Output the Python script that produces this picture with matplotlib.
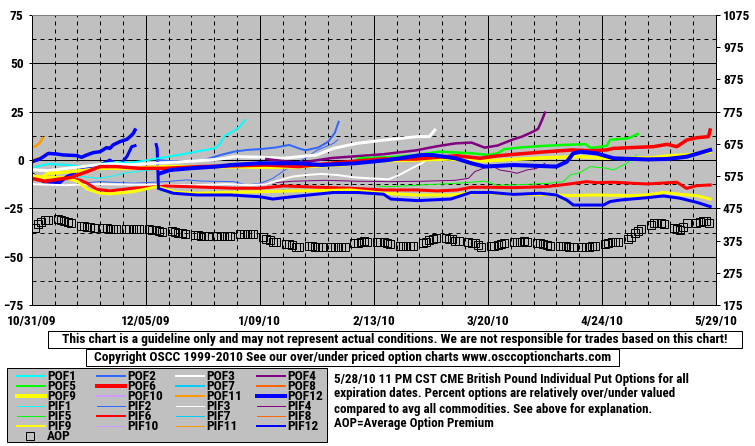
import os
import numpy as np
import matplotlib
matplotlib.use('Agg')
import matplotlib.pyplot as plt
import matplotlib.dates as mdates
from matplotlib import font_manager
from matplotlib.font_manager import FontProperties
from matplotlib.lines import Line2D
from matplotlib.patches import Rectangle
from matplotlib.ticker import FuncFormatter

W, H = 755, 446


def pick_font():
    """Find a static narrow bold face (the chart uses a condensed bold sans)."""
    wanted = ['Liberation Sans Narrow', 'Arial Narrow', 'Archivo Narrow', 'Roboto Condensed',
              'Asap Condensed', 'PT Sans Narrow']
    entries = [f for f in font_manager.fontManager.ttflist
               if '[' not in os.path.basename(f.fname) and f.style == 'normal']
    for fam in wanted:
        for f in entries:
            if f.name == fam and f.weight in (700, 'bold'):
                return f.fname
    return None


FONT_FILE = pick_font()


def fp(size):
    if FONT_FILE:
        return FontProperties(fname=FONT_FILE, size=size)
    return FontProperties(family='Liberation Sans', weight='bold', size=size)


DISCLAIMER = ('This chart is a guideline only and may not represent actual conditions. '
              'We are not responsible for trades based on this chart!')
COPYRIGHT = 'Copyright OSCC 1999-2010 See our over/under priced option charts www.osccoptioncharts.com'
desc = ['5/28/10 11 PM CST CME British Pound Individual Put Options for all',
        'expiration dates. Percent options are relatively over/under valued',
        'compared to avg all commodities. See above for explanation.',
        'AOP=Average Option Premium']

# ---- data (days after 10/31/09, percent over/under valued) ----
START = '2009-10-31'
END = '2010-05-29'

pof1_days = [0, 5, 11, 16, 21, 26, 30, 34, 39, 45, 52, 56, 57.5, 59.3, 62, 64, 65.5]
pof1_vals = [-4, -2, -2.6, -3.4, -2, -1.2, -1.5, -0.5, 0.9, 2.6, 4.8, 6, 7.8, 12.5, 15, 17.5, 20.7]
pif1_days = [10, 16, 20, 24, 28, 32, 36, 40, 46, 52, 58]
pif1_vals = [-9.5, -8.6, -9.5, -8.6, -6.9, -6.0, -5.2, -4.5, -4.3, -3.4, -2.6]

pof2_days = [38.5, 42, 46, 53, 58, 62, 66, 70, 75, 79, 82, 84, 88, 91, 93, 94.2]
pof2_vals = [0, -0.5, -0.9, 0, 2.6, 4.3, 5.2, 5.6, 6.5, 7.8, 6, 5, 6.5, 9.5, 14, 19.8]
pif2_days = [15, 21, 31, 41, 47.5, 52, 62, 66, 70, 72, 74, 77, 80, 84, 87.5, 92.6, 94]
pif2_vals = [-12, -11.2, -12, -11.2, -10.3, -10.9, -11.2, -12.9, -12, -10.9, -9.5, -6, -2.6, 0.9, 5, 8.6, 10.5]

pof3_days = [0, 5, 10, 15, 20, 25, 30, 35, 40, 50, 58, 62, 70, 77, 87.5, 92.6, 99.8, 108, 118.4, 122, 123.7]
pof3_vals = [-5, -5.5, -4.5, -3.5, -2.5, -2, -2.5, -2, -1.5, -0.5, 0.5, 1.7, 1.5, 0.9, 2.6, 6, 8.6, 10.3, 12.1, 12.1, 15.5]
pif3_days = [0, 10, 20, 30, 40, 50, 60, 67, 72, 75, 80, 84, 89, 94, 99, 104, 109.5, 112.5, 115.6, 119.7, 121.7, 123.3]
pif3_vals = [-12.5, -13, -12.5, -12.7, -12.9, -13, -12.5, -13, -12.5, -11, -8.6, -7.8, -7.2, -7.8, -9, -9.5, -10, -8, -5.2, -1.7, 0.9, 2.6]

pof4_days = [72, 82, 92, 100, 108, 118, 124, 130, 135, 139, 143, 147.8, 150.5, 153.9, 155.4, 156.6, 157.5]
pof4_vals = [0.5, -1.5, 1, 2, 3, 5, 7, 8.6, 9, 6.4, 7.5, 10.7, 12.1, 14.7, 16.1, 20.7, 24.5]
pif4_days = [70, 80, 90, 100, 110, 120, 130, 134, 136, 138.6, 140.7, 143.7, 146.8, 148.9, 151.9, 155, 157.5]
pif4_vals = [-12.4, -11, -10.5, -11, -11.2, -11, -10.5, -9.5, -6, -4.3, -2.6, -5.2, -6.0, -6.9, -5.2, -4.3, -1.7]

pof5_days = [100, 110, 118, 125, 135, 140, 143, 145, 150, 157, 163, 170, 171.5, 176.5, 177.5, 183, 186]
pof5_vals = [0.9, 1.5, 2.5, 4.3, 3.5, 2.6, 3.5, 5.6, 6.5, 7.3, 7.8, 8.2, 6.2, 7.3, 10.5, 11.2, 13.5]
pif5_days = [106, 110, 119.7, 130, 135, 139, 142.7, 147.8, 158, 163.2, 165.2, 168.3, 171.4, 176.5, 178.5, 182.6, 185.7]
pif5_vals = [-13.5, -13.8, -12.9, -12.1, -11.5, -10.9, -13, -12.9, -12.1, -11.2, -7.8, -6.5, -3.4, -4.3, -5.2, -1.7, 2.6]

pof6_days = [0, 4, 8, 12, 17, 21, 26, 33, 41, 52, 62, 72, 82, 93, 100, 107, 118, 125, 130.5, 137.6,
             142.7, 147.8, 158, 166, 171.4, 176.5, 178.5, 183.6, 190.8, 195, 198, 201, 204, 207.7, 208.2]
pof6_vals = [-9.5, -11, -10, -9, -6, -3.4, -3.4, -4.3, -4.3, -3.4, -3, -2.6, -3.4, -1.5, -0.5, 0.5, 0.5, 1.5, 2.2, 0.9,
             2.1, 2.9, 4.3, 5.2, 4.8, 5.2, 6, 6.4, 6.9, 8.1, 6.9, 10.3, 11.5, 12.1, 15.5]
pif6_days = [8, 12, 15, 17, 20, 24, 31, 36, 41, 52, 62, 70, 77.5, 88, 98, 108, 118, 124.5, 130.7, 134.8,
             141, 147.8, 158, 164, 170.3, 173.4, 178.5, 188.8, 198, 201, 204, 208.2]
pif6_vals = [-10, -9.5, -10.5, -12, -15.2, -16, -14.6, -14.1, -13.4, -14, -14.6, -14.6, -13.4, -14.1, -14.6, -15.5, -15.5, -16, -15.5, -14.1,
             -14.1, -14.3, -13.8, -12.6, -11.2, -11.7, -11.5, -12.4, -11.5, -14.7, -13.3, -12.9]

pof9_days = [0, 3, 5, 12, 17, 21, 31, 41, 52, 62, 72, 82, 95, 105, 118, 128, 137.6, 147.8, 158, 168.3,
             173.4, 176.5, 183.6, 190.8, 195, 201, 208.2]
pof9_vals = [-8, -9, -7, -6, -5.2, -4.3, -4.3, -3.4, -3.5, -3.5, -3.8, -3.5, -2.5, -0.5, 0, 0.5, -0.5, 0.3, 1.2, 1.7,
             1.2, 0.9, 0.9, 1.2, 2.1, 2.6, 4.3]
pif9_days = [0, 5, 10, 14, 17, 21, 24, 31, 38.4, 44.5, 50.6, 61, 70, 80, 98, 108, 118, 128.6, 137.6, 147.8,
             158, 165, 173.4, 183.6, 188.8, 194, 199, 204, 208.2]
pif9_vals = [-10, -9, -9, -11, -15, -17.2, -17.5, -16.4, -13.8, -16.7, -17.2, -16.7, -16.4, -16, -15.5, -17.2, -18.1, -18.1, -16.7, -17.8,
             -17.8, -18.4, -18.1, -18.4, -18.1, -16.7, -17.8, -18.4, -20.2]

pof11_days = [0, 1.5, 2.5, 3.4]
pof11_vals = [6.4, 7.5, 9.0, 11.4]
pif11_days = [0, 1.5, 3.0]
pif11_vals = [0.5, 1.0, 1.5]

pof12_days = [39.4, 42.4, 48.6, 56.8, 61, 70, 81.8, 89, 99.2, 109.5, 119.7, 122.8, 130, 135, 139, 147.8,
              156, 161, 164.2, 166.2, 168.3, 173.4, 178.5, 188.8, 194.9, 201, 208.2]
pof12_vals = [-6.9, -5.2, -4.3, -3.4, -2.6, -1.7, -1.7, -2.6, -1.7, 0, 2.6, 2.6, 0.9, -1.7, -3.4, -2.6,
              -3.1, -3.4, -0.9, 3.4, 4.3, 3.4, 0.9, 0.3, 0.5, 1.7, 5.2]
pif12_days = [38.2, 38.5, 38.9, 43.5, 50.6, 61, 70, 74, 80, 92.6, 100, 108, 110.2, 118.4, 128.6, 134.8, 141,
              147.8, 156, 161, 164.2, 166.2, 175.5, 177.5, 180.6, 188.8, 193.9, 199, 204.1, 208.2]
pif12_vals = [8.0, 6.0, -14.7, -17.2, -18.1, -18.1, -19, -20.2, -19, -16.8, -16.8, -17.7, -20.2, -21, -20.2, -16.8, -16.8,
              -17.8, -17.2, -18.1, -20.7, -23.3, -23.3, -21.5, -20.7, -19.5, -18.6, -19.8, -21.9, -24.1]

# December contract lines that stop before the roll
dec_pof_days = [0, 2.5, 5.1, 7.7, 9.7, 13.8, 15.3, 16.9, 18.9, 21, 23, 24, 25, 27.1, 29.2, 30.2, 31.2, 31.7]
dec_pof_vals = [-0.9, 0.5, 3.4, 3.1, 2.6, 2.3, 1.4, 2.6, 3.8, 4.3, 6.4, 6.0, 7.8, 9.5, 10.7, 12.1, 13.8, 15.5]
dec_pif_days = [0, 3.6, 8.7, 10.7, 14.8, 21, 24, 26.1, 27.6, 29.2, 30.7, 31.7]
dec_pif_vals = [-6.9, -11.2, -11.7, -8.6, -5.2, -2.6, 0, -2.6, -1.4, 1.7, 6.9, 7.4]

# average option premium (right axis), five trading days per week
aop_days = [7 * wk + d for wk in range(30) for d in range(1, 6)]
aop_vals = [415, 426, 434, 439, 439, 442, 440, 437, 432, 428, 421, 419, 418, 416, 414,
            414, 414, 412, 412, 412, 412, 412, 412, 412, 412, 411, 409, 408, 405, 402,
            404, 401, 399, 397, 395, 392, 392, 390, 390, 390, 388, 388, 388, 388, 388,
            394, 394, 394, 394, 394, 387, 379, 377, 370, 370, 364, 364, 361, 356, 356,
            358, 358, 356, 356, 356, 356, 356, 356, 355, 356, 366, 367, 372, 375, 372,
            372, 370, 370, 368, 365, 359, 359, 359, 359, 359, 367, 371, 377, 380, 382,
            382, 380, 379, 375, 374, 371, 368, 366, 361, 356, 358, 359, 361, 364, 366,
            372, 372, 372, 373, 371, 368, 367, 363, 360, 359, 359, 358, 357, 356, 356,
            356, 356, 356, 357, 358, 364, 366, 369, 371, 372, 379, 387, 398, 405, 412,
            423, 428, 430, 430, 425, 414, 410, 408, 418, 429, 430, 434, 437, 437, 429]

series_colors = ['#00FFFF', '#3366FF', '#FFFFFF', '#800080', '#00FF00', '#FF0000',
                 '#00CCFF', '#FF6600', '#FFFF00', '#CC99FF', '#FF9900', '#0000FF']

y_ticks = [-75, -50, -25, 0, 25, 50, 75]
right_ticks = [175, 275, 375, 475, 575, 675, 775, 875, 975, 1075]

# ---- figure ----
fig = plt.figure(figsize=(W / 100, H / 100), dpi=100)
fig.patch.set_facecolor('white')

# scale fonts so the long lines span the same widths as in the original
renderer = fig.canvas.get_renderer()


def fit_size(text, width_px):
    probe = fig.text(0, 0, text, fontproperties=fp(9))
    w = probe.get_window_extent(renderer).width
    probe.remove()
    return min(max(9 * width_px / w, 7.5), 9.6)


FS = fit_size(DISCLAIMER, 688)
FS_DESC = fit_size(desc[0], 356)

L, R, T, B = 31.7, 716, 15, 305
ax = fig.add_axes([L / W, 1 - B / H, (R - L) / W, (B - T) / H])
ax.set_facecolor('#C0C0C0')

t0 = mdates.date2num(np.datetime64(START))
t1 = mdates.date2num(np.datetime64(END))


def xd(days):
    return t0 + np.asarray(days, dtype=float)


px = 0.72  # points per pixel

# thin / lower-band lines first
ax.plot(xd(pif1_days), pif1_vals, color=series_colors[0], lw=1 * px)
ax.plot(xd(pif2_days), pif2_vals, color=series_colors[1], lw=1 * px)
ax.plot(xd(pif4_days), pif4_vals, color=series_colors[3], lw=1 * px)
ax.plot(xd(pif5_days), pif5_vals, color=series_colors[4], lw=1 * px)
ax.plot(xd(pif11_days), pif11_vals, color=series_colors[10], lw=1 * px)
ax.plot(xd(pif3_days), pif3_vals, color=series_colors[2], lw=2 * px)
ax.plot(xd(pif6_days), pif6_vals, color=series_colors[5], lw=3 * px)
ax.plot(xd(pif9_days), pif9_vals, color=series_colors[8], lw=3 * px)
ax.plot(xd(pif12_days), pif12_vals, color=series_colors[11], lw=3 * px)
ax.plot(xd(dec_pif_days), dec_pif_vals, color=series_colors[11], lw=3 * px)

ax.plot(xd(pof1_days), pof1_vals, color=series_colors[0], lw=2 * px)
ax.plot(xd(pof2_days), pof2_vals, color=series_colors[1], lw=2 * px)
ax.plot(xd(pof3_days), pof3_vals, color=series_colors[2], lw=3 * px)
ax.plot(xd(pof4_days), pof4_vals, color=series_colors[3], lw=2.5 * px)
ax.plot(xd(pof5_days), pof5_vals, color=series_colors[4], lw=2.5 * px)
ax.plot(xd(pof11_days), pof11_vals, color=series_colors[10], lw=2.5 * px)
ax.plot(xd(pof9_days), pof9_vals, color=series_colors[8], lw=3.5 * px)
ax.plot(xd(pof6_days), pof6_vals, color=series_colors[5], lw=3.5 * px)
ax.plot(xd(pof12_days), pof12_vals, color=series_colors[11], lw=4 * px)
ax.plot(xd(dec_pof_days), dec_pof_vals, color=series_colors[11], lw=3.5 * px)

ax.set_xlim(t0, t1)
ax.set_ylim(-75, 75)

major_x = xd(np.arange(0, 211, 35))
minor_x = xd(np.arange(0, 211, 7))
ax.set_xticks(major_x)
ax.set_xticks(minor_x, minor=True)
ax.xaxis.set_major_formatter(FuncFormatter(
    lambda v, pos: (lambda d: f"{d.month}/{d.day:02d}/{d.year % 100:02d}")(mdates.num2date(v))))
ax.set_yticks(y_ticks)
ax.set_yticks(np.arange(-62.5, 75, 25), minor=True)

ax.grid(which='major', color='black', lw=1 * px, ls='-')
ax.grid(which='minor', color='black', lw=1 * px, ls=(0, (4, 4)))
ax.set_axisbelow(True)

ax.tick_params(axis='y', which='major', length=3 * px, width=px, direction='out', pad=5 * px)
ax.tick_params(axis='both', which='minor', length=0)
ax.tick_params(axis='x', which='major', length=0, pad=10 * px)
for lab in ax.get_xticklabels() + ax.get_yticklabels():
    lab.set_fontproperties(fp(FS))

for side in ('left', 'bottom'):
    ax.spines[side].set_color('black')
    ax.spines[side].set_linewidth(px)
ax.spines['top'].set_color('#808080')
ax.spines['top'].set_linewidth(px)
ax.spines['right'].set_visible(False)

ax2 = ax.twinx()
ax2.plot(xd(aop_days), aop_vals, ls='none', marker='s', markersize=5.4,
         markerfacecolor='none', markeredgecolor='black', markeredgewidth=px)
ax2.set_ylim(175, 1075)
ax2.set_yticks(right_ticks)
ax2.tick_params(axis='y', length=4 * px, width=px, direction='out', pad=3 * px)
for lab in ax2.get_yticklabels():
    lab.set_fontproperties(fp(FS))
for side in ('left', 'top', 'bottom'):
    ax2.spines[side].set_visible(False)
ax2.spines['right'].set_color('black')
ax2.spines['right'].set_linewidth(px)


# ---- boxes and text below the chart ----
def fx(x):
    return x / W


def fy(y):
    return 1 - y / H


def box(x0, y0, x1, y1, face='white'):
    fig.add_artist(Rectangle((fx(x0), fy(y1)), fx(x1) - fx(x0), fy(y0) - fy(y1),
                             transform=fig.transFigure, facecolor=face,
                             edgecolor='black', linewidth=px))


box(48, 331, 742, 348)
fig.text(fx(395), fy(339.5), DISCLAIMER, ha='center', va='center', fontproperties=fp(FS))
box(86, 349, 619, 366)
fig.text(fx(352.5), fy(357.5), COPYRIGHT, ha='center', va='center', fontproperties=fp(FS))

box(7, 368, 327, 442, face='#C0C0C0')
col_x = [17, 97, 176, 257]
row_y = [376, 386, 396, 406, 416, 426, 436]
for i in range(12):
    r, c = divmod(i, 4)
    heavy = i in (5, 8, 11)
    for kind, row_off, lw_px in (('POF', 0, 4 if heavy else 2), ('PIF', 3, 2 if heavy else 1)):
        y = row_y[r + row_off]
        fig.add_artist(Line2D([fx(col_x[c]), fx(col_x[c] + 28)], [fy(y), fy(y)],
                              transform=fig.transFigure, color=series_colors[i], lw=lw_px * px))
        fig.text(fx(col_x[c] + 30), fy(y), f'{kind}{i + 1}', ha='left', va='center',
                 fontproperties=fp(FS))
fig.add_artist(Line2D([fx(30)], [fy(row_y[6])], transform=fig.transFigure, ls='none',
                      marker='s', markersize=5.2, markerfacecolor='none',
                      markeredgecolor='black', markeredgewidth=px))
fig.text(fx(47), fy(row_y[6]), 'AOP', ha='left', va='center', fontproperties=fp(FS))

for k, line in enumerate(desc):
    fig.text(fx(334), fy(379 + 15 * k), line, ha='left', va='center', fontproperties=fp(FS_DESC))

fig.savefig('out.png', dpi=100, facecolor='white')
